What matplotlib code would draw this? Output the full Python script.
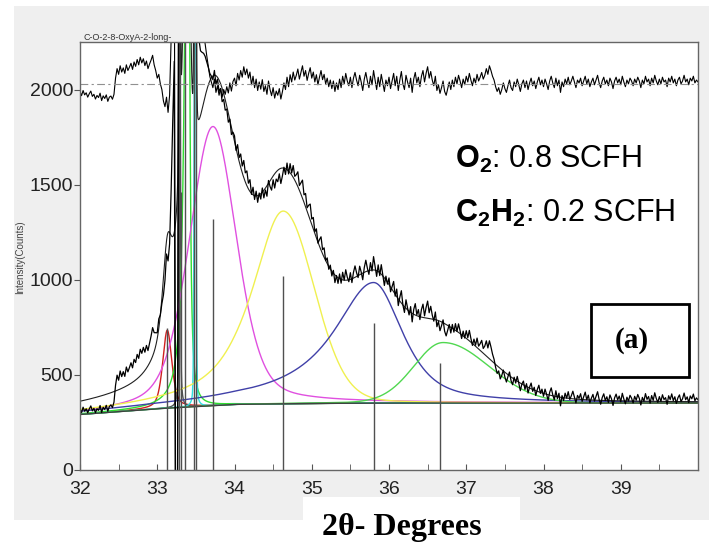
import matplotlib.pyplot as plt
from matplotlib.patches import Rectangle
import numpy as np

plt.rcParams['font.family'] = ['Liberation Sans', 'DejaVu Sans']
plt.rcParams['mathtext.fontset'] = 'custom'
plt.rcParams['mathtext.rm'] = 'Liberation Sans'
plt.rcParams['mathtext.bf'] = 'Liberation Sans:bold'

# Scan settings (2-theta, degrees)
scan_start = 32.0
scan_stop = 40.0
scan_step = 0.02

# Background (counts) at knot positions
bg_knots_x = [32, 33, 34, 35, 36, 37, 38, 39, 40]
bg_knots_y = [292, 322, 345, 350, 352, 352, 352, 352, 352]

# Fitted profiles: centre, height above background, half widths and Lorentz fraction per side
peak_colors = ['#d02020', '#505050', '#30dd30', '#30e0e0', '#e050e0', '#f0f050', '#4040a8', '#50d850']
peak_centers = [33.13, 33.29, 33.40, 33.49, 33.72, 34.63, 35.80, 36.70]
peak_heights = [410, 5000, 4000, 3000, 1467, 1013, 634, 318]
peak_hw_left = [0.07, 0.008, 0.045, 0.012, 0.36, 0.48, 0.63, 0.45]
peak_hw_right = [0.07, 0.008, 0.020, 0.012, 0.36, 0.47, 0.44, 0.70]
peak_eta_left = [0.5, 0.3, 0.9, 0.2, 0.35, 0.8, 1.0, 0.1]
peak_eta_right = [0.5, 0.3, 0.9, 0.2, 0.35, 0.1, 0.65, 0.0]

# Stick pattern (position, intensity)
stick_pos = [33.13, 33.28, 33.31, 33.36, 33.47, 33.50, 33.72, 34.63, 35.80, 36.66]
stick_int = [745, 3000, 1460, 3000, 3000, 3000, 1320, 1020, 773, 563]

# Difference curve (observed - calculated), one value per step
residual = [
    -40, -62, -35, -58, -47, -70, -52, -38, -66, -55, -80, -61, -72, -49, -88, -63, -77, -58, -92, -70,
    -64, -81, -55, 30, 80, 50, 95, 62, 84, 55, 100, 70, 88, 108, 76, 115, 92, 128, 100, 140,
    110, 132, 96, 120, 80, 104, 125, 150, 100, 70, 30, 50, 0, -30, -90, -120, -70, -150, -60, 240,
    600, 900, -2600, -2400, 700, 650, 600, 650, 700, 650, 600, 650, 600, 550, 500, 450, 380, 420, 340, 300,
    260, 210, 150, 95, 40, 10, -20, 25, -45, -10, -60, -25, -70, -30, -55, -15, -48, 5, -38, 12,
    30, -10, 55, 20, 70, 35, 90, 48, 78, 30, 62, -5, 40, -20, 25, -35, 10, -28, 22, -40,
    -10, -55, 15, -30, -62, -20, -75, -38, -60, -25, -80, -42, 5, -30, 35, -15, 48, 10, 62, 20,
    45, 78, 25, 60, 95, 40, 70, 18, 55, 85, 30, 62, 10, 48, -5, 35, 70, 22, 50, 0,
    30, -15, 20, -25, 15, -40, 5, -30, 25, -20, 40, 0, 55, 15, -10, 35, -20, 30, 60, 20,
    -10, 45, 10, -35, 25, 60, 15, -20, 40, -5, 70, 20, -30, 35, -15, 50, 5, -40, 20, -10,
    35, -25, 15, 55, -10, 40, -35, 20, 65, 0, -30, 45, 10, -20, 30, -45, 25, 60, 5, 35,
    -15, 40, 70, 10, 55, 90, 30, 65, 20, -10, 40, -35, -5, -50, -20, 15, -40, -60, -25, 10,
    -30, 20, -15, 35, 0, 45, 15, -20, 25, -5, 40, 10, 55, 20, -10, 30, 5, 50, 15, 35,
    60, 25, 45, 80, 50, 95, 70, 40, 20, -15, -40, -20, -55, -30, 5, -25, -45, -10, 20, -20,
    -35, 10, -15, 25, -5, -40, 0, 20, -20, 15, -30, 5, 30, -10, 15, -25, 10, 35, -5, 20,
    -15, 25, 0, -30, 15, 40, 5, -20, 30, -10, 20, -45, 10, -15, 25, 0, 35, -5, 15, 40,
    10, -20, 20, 5, 30, -10, 15, 40, 0, 25, -15, 10, 30, -5, 20, 45, 5, -20, 15, 35,
    0, 20, -10, 30, 10, -25, 15, 35, 5, 25, -5, 40, 10, -15, 20, 0, 30, 15, -10, 25,
    5, 35, 15, -20, 20, 0, 40, 10, 25, -10, 30, 5, 45, 15, -5, 25, 0, 35, 10, 20,
    -15, 30, 10, 40, 5, 25, -10, 20, 35, 0, 15, 45, 10, 25, -5, 30, 15, 40, 5, 20,
    10,
]
residual_offset = 2030


def split_pv(x, c, h, wl, wr, el, er):
    """Split pseudo-Voigt profile."""
    w = np.where(x < c, wl, wr)
    eta = np.where(x < c, el, er)
    u = ((x - c) / w) ** 2
    return h * (eta / (1 + u) + (1 - eta) * np.exp(-np.log(2) * u))


def calc_profile(x):
    bg = np.interp(x, bg_knots_x, bg_knots_y)
    parts = [split_pv(x, *p) for p in zip(peak_centers, peak_heights, peak_hw_left,
                                           peak_hw_right, peak_eta_left, peak_eta_right)]
    return bg, parts


n_steps = int(round((scan_stop - scan_start) / scan_step)) + 1
x_obs = np.linspace(scan_start, scan_stop, n_steps)
x_fine = np.linspace(scan_start, scan_stop, 4001)

bg_f, parts_f = calc_profile(x_fine)
fit_f = bg_f + np.sum(parts_f, axis=0)
bg_o, parts_o = calc_profile(x_obs)
resid = np.array(residual, dtype=float)
observed = bg_o + np.sum(parts_o, axis=0) + resid

W, H = 709, 544
fig = plt.figure(figsize=(W / 100, H / 100), dpi=100)
fig.patch.set_facecolor('white')

# gray panel behind the plot
fig.add_artist(Rectangle((14 / W, 1 - 520 / H), (W - 14) / W, 514 / H,
                         transform=fig.transFigure, facecolor='#efefef',
                         edgecolor='none', zorder=0))

ax = fig.add_axes([80 / W, 1 - 470 / H, 618 / W, 428 / H])
ax.set_facecolor('white')

for col, part in zip(peak_colors, parts_f):
    ax.plot(x_fine, bg_f + part, color=col, lw=1.0)
ax.plot(x_fine, bg_f, color='#404040', lw=1.0)
ax.vlines(stick_pos, 0, stick_int, color='#505050', lw=1.0)
ax.plot(x_fine, fit_f, color='#202020', lw=0.8)
ax.plot(x_obs, observed, color='black', lw=0.9)
ax.plot(x_obs, residual_offset + resid, color='black', lw=0.8)
ax.axhline(residual_offset, color='#909090', lw=0.8, ls=(0, (7, 3, 2, 3)))

ax.set_xlim(32, 40)
ax.set_ylim(0, 2250)
ax.set_xticks(np.arange(32, 40, 1))
ax.set_xticks(np.arange(32.5, 40, 1), minor=True)
ax.set_yticks(np.arange(0, 2001, 500))
ax.tick_params(axis='x', which='both', direction='in', length=4, color='#555555',
               labelsize=14, pad=8, labelcolor='#222222')
ax.tick_params(axis='y', direction='out', length=4, color='#555555',
               labelsize=14, pad=1, labelcolor='#222222')
for s in ax.spines.values():
    s.set_color('#666666')
    s.set_linewidth(1.0)

fig.text(83 / W, 1 - 40 / H, 'C-O-2-8-OxyA-2-long-', fontsize=6.5,
         color='#333333', va='baseline')
fig.text(20 / W, 1 - 257 / H, 'Intensity(Counts)', fontsize=7, color='#444444',
         rotation=90, ha='center', va='center')

fig.text(455 / W, 1 - 168 / H, r'$\mathbf{O_2}$: 0.8 SCFH', fontsize=22,
         va='baseline', ha='left')
fig.text(455 / W, 1 - 222 / H, r'$\mathbf{C_2H_2}$: 0.2 SCFH', fontsize=22,
         va='baseline', ha='left')

# (a) panel tag in a box
fig.add_artist(Rectangle((591 / W, 1 - 377 / H), 98 / W, 73 / H,
                         transform=fig.transFigure, facecolor='white',
                         edgecolor='black', lw=2, zorder=5))
fig.text(632 / W, 1 - 340 / H, '(a)', fontsize=21, fontweight='bold',
         family='Liberation Serif', ha='center', va='center', zorder=6)

# x-axis caption on a white strip
fig.add_artist(Rectangle((303 / W, 0), 217 / W, 47 / H, transform=fig.transFigure,
                         facecolor='white', edgecolor='none', zorder=1))
fig.text(402 / W, 1 - 535 / H, '2θ- Degrees', fontsize=23, fontweight='bold',
         family='Liberation Serif', ha='center', va='baseline', zorder=2)

fig.savefig('out.png', dpi=100)
